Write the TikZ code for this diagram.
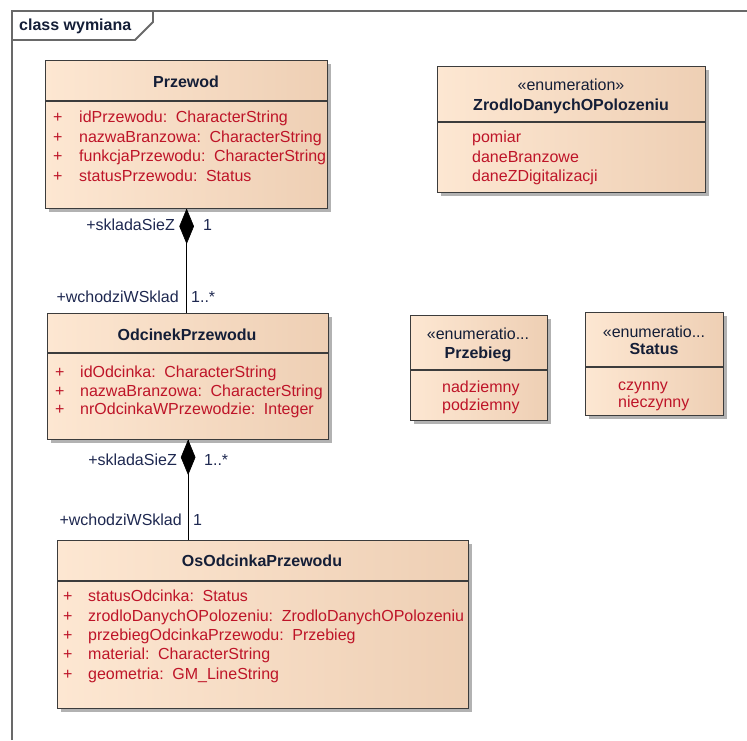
\documentclass[tikz,border=0pt]{standalone}
\usepackage{fontspec}
\setmainfont{Liberation Sans}
\usetikzlibrary{shadows}
\definecolor{framegray}{RGB}{105,105,105}
\definecolor{boxline}{RGB}{60,60,60}
\definecolor{peachL}{RGB}{253,231,210}
\definecolor{peachR}{RGB}{238,207,180}
\definecolor{attrred}{RGB}{190,20,40}
\definecolor{titleink}{RGB}{20,30,55}
\definecolor{roleink}{RGB}{30,40,80}
\begin{document}
\begin{tikzpicture}[x=1pt,y=-1pt,
  classbox/.style={draw=boxline, line width=1.3pt, rectangle, inner sep=0pt, anchor=north west,
    left color=peachL, right color=peachR,
    drop shadow={shadow xshift=3pt, shadow yshift=-3pt, fill=black, opacity=0.3}},
  txt/.style={inner sep=0pt, font=\fontsize{16}{19}\selectfont},
  ttl/.style={inner sep=0pt, font=\fontsize{16}{19}\selectfont\bfseries, text=titleink, anchor=base},
  ster/.style={txt, text=titleink, anchor=base},
  attr/.style={txt, text=attrred, anchor=base west},
  role/.style={txt, text=roleink, anchor=base east},
  mult/.style={txt, text=roleink, anchor=base west},
  sep/.style={draw=boxline, line width=1.3pt},
  link/.style={draw=black, line width=1.2pt},
  comp/.style={fill=black, draw=black, line width=0.6pt, line join=round}
]
\useasboundingbox (0,0) rectangle (747,740);

% package frame with its name tab
\draw[framegray, line width=1.8pt] (12,740) -- (12,11) -- (747,11);
\draw[framegray, line width=1.8pt] (12,40) -- (135,40) -- (153,22) -- (153,11);
\node[inner sep=0pt, font=\fontsize{16}{19}\selectfont\bfseries, text=titleink, anchor=base west] (pkgname) at (19,30.5) {class wymiana};

% class boxes
\node[classbox, minimum width=282pt, minimum height=148pt] (przewod) at (45,60) {};
\node[classbox, minimum width=268pt, minimum height=126pt] (zrodlo) at (437,66) {};
\node[classbox, minimum width=281pt, minimum height=126pt] (odcinek) at (47,313) {};
\node[classbox, minimum width=137pt, minimum height=105pt] (przebieg) at (410,315) {};
\node[classbox, minimum width=138pt, minimum height=103pt] (status) at (585,312) {};
\node[classbox, minimum width=411pt, minimum height=168pt] (os) at (57,540) {};

% compartment separators
\draw[sep] ([yshift=-41pt]przewod.north west) -- ([yshift=-41pt]przewod.north east);
\draw[sep] ([yshift=-56pt]zrodlo.north west) -- ([yshift=-56pt]zrodlo.north east);
\draw[sep] ([yshift=-40pt]odcinek.north west) -- ([yshift=-40pt]odcinek.north east);
\draw[sep] ([yshift=-55pt]przebieg.north west) -- ([yshift=-55pt]przebieg.north east);
\draw[sep] ([yshift=-55pt]status.north west) -- ([yshift=-55pt]status.north east);
\draw[sep] ([yshift=-41pt]os.north west) -- ([yshift=-41pt]os.north east);

% Przewod
\node[ttl] (przewodT) at (186,87.5) {Przewod};
\node[attr] (p1a) at (53,122.5) {+};
\node[attr] (p1) at (79,122.5) {idPrzewodu:\, CharacterString};
\node[attr] (p2a) at (53,142) {+};
\node[attr] (p2) at (79,142) {nazwaBranzowa:\, CharacterString};
\node[attr] (p3a) at (53,161.5) {+};
\node[attr] (p3) at (79,161.5) {funkcjaPrzewodu:\, CharacterString};
\node[attr] (p4a) at (53,181) {+};
\node[attr] (p4) at (79,181) {statusPrzewodu:\, Status};

% ZrodloDanychOPolozeniu
\node[ster] (zrodloS) at (571,90.5) {«enumeration»};
\node[ttl] (zrodloT) at (571,110.5) {ZrodloDanychOPolozeniu};
\node[attr] (z1) at (472,142.5) {pomiar};
\node[attr] (z2) at (472,162) {daneBranzowe};
\node[attr] (z3) at (472,181.5) {daneZDigitalizacji};

% OdcinekPrzewodu
\node[ttl] (odcinekT) at (187,340.5) {OdcinekPrzewodu};
\node[attr] (o1a) at (55,377.5) {+};
\node[attr] (o1) at (80,377.5) {idOdcinka:\, CharacterString};
\node[attr] (o2a) at (55,396) {+};
\node[attr] (o2) at (80,396) {nazwaBranzowa:\, CharacterString};
\node[attr] (o3a) at (55,414.5) {+};
\node[attr] (o3) at (80,414.5) {nrOdcinkaWPrzewodzie:\, Integer};

% Przebieg
\node[ster] (przebiegS) at (478,339.5) {«enumeratio...};
\node[ttl] (przebiegT) at (478,358.5) {Przebieg};
\node[attr] (b1) at (442,392.5) {nadziemny};
\node[attr] (b2) at (442,410.5) {podziemny};

% Status
\node[ster] (statusS) at (654,337.5) {«enumeratio...};
\node[ttl] (statusT) at (654,354.5) {Status};
\node[attr] (s1) at (618,390.5) {czynny};
\node[attr] (s2) at (618,407.5) {nieczynny};

% OsOdcinkaPrzewodu
\node[ttl] (osT) at (262,566.5) {OsOdcinkaPrzewodu};
\node[attr] (a1a) at (63,601.5) {+};
\node[attr] (a1) at (88,601.5) {statusOdcinka:\, Status};
\node[attr] (a2a) at (63,621) {+};
\node[attr] (a2) at (88,621) {zrodloDanychOPolozeniu:\, ZrodloDanychOPolozeniu};
\node[attr] (a3a) at (63,640.5) {+};
\node[attr] (a3) at (88,640.5) {przebiegOdcinkaPrzewodu:\, Przebieg};
\node[attr] (a4a) at (63,659.5) {+};
\node[attr] (a4) at (88,659.5) {material:\, CharacterString};
\node[attr] (a5a) at (63,679) {+};
\node[attr] (a5) at (88,679) {geometria:\, GM\_LineString};

% composition Przewod <>-- OdcinekPrzewodu
\draw[link] (przewod.south) -- (przewod.south |- odcinek.north);
\fill[comp] (przewod.south) -- ++(-7,17) -- ++(7,17) -- ++(7,-17) -- cycle;
\node[role] (r1) at (175,230.5) {+skladaSieZ};
\node[mult] (m1) at (203,230.5) {1};
\node[role] (r2) at (179,302.5) {+wchodziWSklad};
\node[mult] (m2) at (191,302.5) {1..*};

% composition OdcinekPrzewodu <>-- OsOdcinkaPrzewodu
\draw[link] (odcinek.south) -- (odcinek.south |- os.north);
\fill[comp] (odcinek.south) -- ++(-7,17) -- ++(7,17) -- ++(7,-17) -- cycle;
\node[role] (r3) at (177,465.5) {+skladaSieZ};
\node[mult] (m3) at (204,465.5) {1..*};
\node[role] (r4) at (182,525.5) {+wchodziWSklad};
\node[mult] (m4) at (193,525.5) {1};
\end{tikzpicture}
\end{document}
